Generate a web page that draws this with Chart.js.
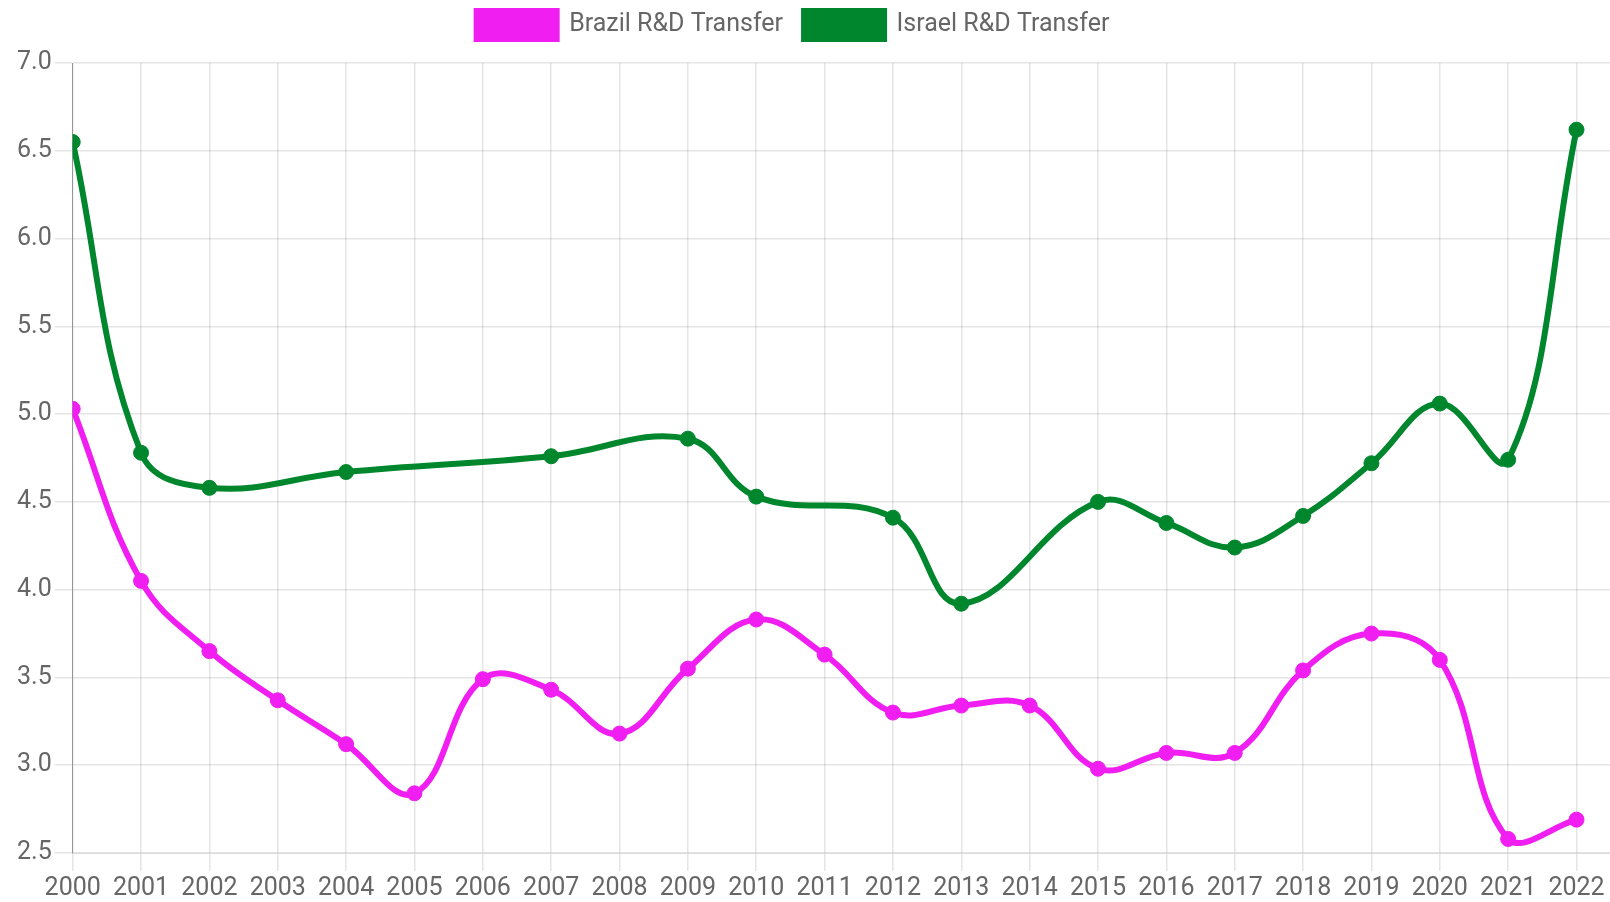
<!DOCTYPE html>
<html>
<head>
<meta charset="utf-8">
<script src="https://cdn.jsdelivr.net/npm/chart.js@4"></script>
<style>
  html, body { margin: 0; padding: 0; background: #fff; overflow: hidden; }
  #wrap { width: 1610px; height: 902px; position: relative; }
</style>
</head>
<body>
<div id="wrap"><canvas id="chart"></canvas></div>
<script>
// years on the x axis
const years = [2000, 2001, 2002, 2003, 2004, 2005, 2006, 2007, 2008, 2009, 2010, 2011,
  2012, 2013, 2014, 2015, 2016, 2017, 2018, 2019, 2020, 2021, 2022];

const brazilRD = [5.03, 4.05, 3.65, 3.37, 3.12, 2.84, 3.49, 3.43, 3.18, 3.55, 3.83, 3.63,
  3.30, 3.34, 3.34, 2.98, 3.07, 3.07, 3.54, 3.75, 3.60, 2.58, 2.69];

// israel has gaps in some years, the line just spans over them
const israelRD = [6.55, 4.78, 4.58, null, 4.67, null, null, 4.76, null, 4.86, 4.53, null,
  4.41, 3.92, null, 4.50, 4.38, 4.24, 4.42, 4.72, 5.06, 4.74, 6.62];

const yTicks = [2.5, 3.0, 3.5, 4.0, 4.5, 5.0, 5.5, 6.0, 6.5, 7.0];

const toPoints = arr => years.map((yr, i) => ({ x: yr, y: arr[i] }));

const tickFont = { family: 'Roboto', size: 25 };

// legend: a bit more room under it, and sits slightly left of centre
const legendTweak = {
  id: 'legendTweak',
  beforeInit(chart) {
    const fit = chart.legend.fit;
    chart.legend.fit = function () {
      fit.call(this);
      this.height += 14;
    };
  },
  afterLayout(chart) {
    chart.legend.left -= 12;
    chart.legend.right -= 12;
  }
};

new Chart(document.getElementById('chart'), {
  type: 'line',
  data: {
    datasets: [
      {
        label: 'Brazil R&D Transfer',
        data: toPoints(brazilRD),
        borderColor: '#f01ef0',
        backgroundColor: '#f01ef0',
        borderWidth: 6,
        pointRadius: 7.5,
        pointBorderWidth: 1,
        tension: 0.4
      },
      {
        label: 'Israel R&D Transfer',
        data: toPoints(israelRD),
        borderColor: '#00872d',
        backgroundColor: '#00872d',
        borderWidth: 6,
        pointRadius: 7.5,
        pointBorderWidth: 1,
        tension: 0.4,
        spanGaps: true
      }
    ]
  },
  plugins: [legendTweak],
  options: {
    responsive: true,
    maintainAspectRatio: false,
    animation: false,
    layout: { autoPadding: false, padding: { top: -10, left: 0, right: 0, bottom: 0 } },
    plugins: {
      legend: {
        position: 'top',
        labels: {
          boxWidth: 80,
          boxHeight: 28,
          padding: 21,
          color: '#666',
          font: { family: 'Roboto', size: 25 }
        }
      },
      tooltip: { enabled: false }
    },
    scales: {
      x: {
        type: 'linear',
        min: years[0],
        max: years[years.length - 1] + 0.49,
        bounds: 'data',
        grid: { color: 'rgba(0,0,0,0.1)', lineWidth: 1.5, tickLength: 18 },
        ticks: {
          stepSize: 1,
          includeBounds: false,
          autoSkip: false,
          maxRotation: 0,
          padding: 3,
          color: '#666',
          font: tickFont,
          callback: v => String(v)
        },
        afterFit(scale) {
          scale.height -= 5;
        }
      },
      y: {
        min: yTicks[0],
        max: yTicks[yTicks.length - 1],
        border: { color: 'rgba(0,0,0,0.35)' },
        grid: { color: 'rgba(0,0,0,0.1)', lineWidth: 1.5, tickLength: 18 },
        ticks: {
          stepSize: 0.5,
          padding: 3,
          color: '#666',
          font: tickFont,
          callback: v => v.toFixed(1)
        },
        afterFit(scale) {
          scale.width += 14;
        }
      }
    }
  }
});
</script>
</body>
</html>
